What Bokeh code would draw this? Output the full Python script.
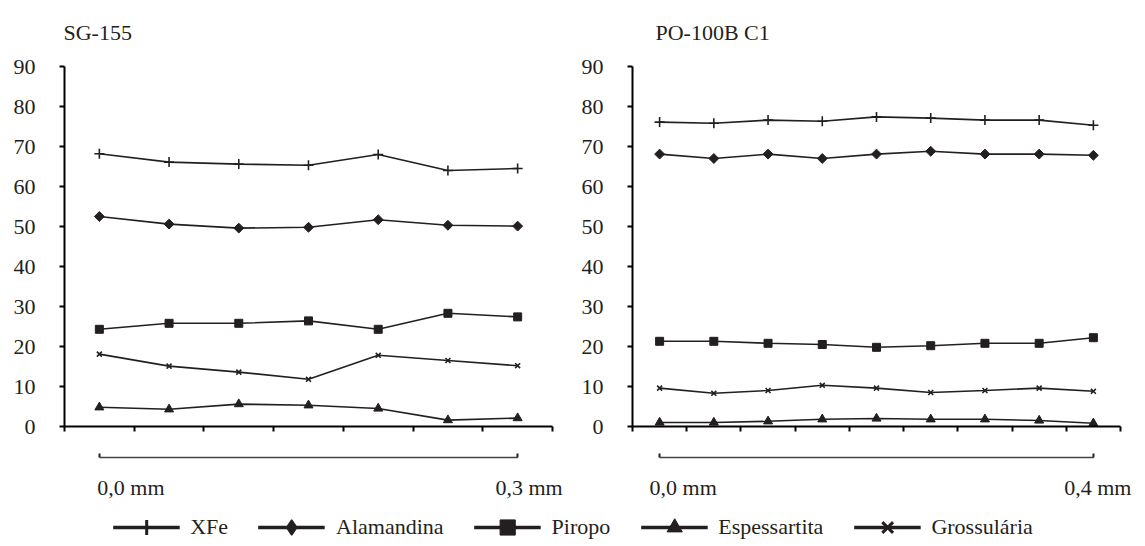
import numpy as np
from bokeh.plotting import figure
from bokeh.models import Range1d, LinearAxis, FixedTicker, Label, Legend, LegendItem
from bokeh.layouts import column, row
from bokeh.embed import file_html
from bokeh.resources import INLINE

# ---------------- data ----------------
series_names = ["XFe", "Alamandina", "Piropo", "Espessartita", "Grossulária"]
y_ticks = [0, 10, 20, 30, 40, 50, 60, 70, 80, 90]

sg155_title = "SG-155"
sg155_scale_mm = 0.3
sg155_scale_labels = ["0,0 mm", "0,3 mm"]
sg155_xfe = [68.2, 66.1, 65.6, 65.3, 68.0, 64.0, 64.5]
sg155_alamandina = [52.5, 50.6, 49.6, 49.8, 51.7, 50.3, 50.1]
sg155_piropo = [24.3, 25.8, 25.8, 26.4, 24.3, 28.3, 27.4]
sg155_espessartita = [4.8, 4.3, 5.6, 5.3, 4.5, 1.6, 2.1]
sg155_grossularia = [18.1, 15.1, 13.6, 11.8, 17.8, 16.5, 15.2]

po100_title = "PO-100B C1"
po100_scale_mm = 0.4
po100_scale_labels = ["0,0 mm", "0,4 mm"]
po100_xfe = [76.1, 75.8, 76.6, 76.3, 77.4, 77.1, 76.6, 76.6, 75.3]
po100_alamandina = [68.1, 67.0, 68.1, 67.0, 68.1, 68.8, 68.1, 68.1, 67.8]
po100_piropo = [21.3, 21.3, 20.8, 20.5, 19.8, 20.2, 20.8, 20.8, 22.2]
po100_espessartita = [1.0, 1.0, 1.3, 1.8, 2.0, 1.8, 1.8, 1.5, 0.8]
po100_grossularia = [9.6, 8.3, 9.0, 10.3, 9.6, 8.5, 9.0, 9.6, 8.8]

# ---------------- style / layout ----------------
FONT = "Liberation Serif"
INK = "#231f20"
H1 = 502          # height of the two panel figures
H2 = 44           # height of the legend strip
AX_TOP = 66       # pixel row of y = 90
AX_BOTTOM = 426   # pixel row of y = 0
Y_MAX = 90

plot_markers = {
    "XFe": dict(marker="cross", size=10, line_width=1.6, angle=0.0),
    "Alamandina": dict(marker="square", size=7, line_width=1, angle=np.pi / 4),
    "Piropo": dict(marker="square", size=8, line_width=1, angle=0.0),
    "Espessartita": dict(marker="triangle", size=9, line_width=1, angle=0.0),
    "Grossulária": dict(marker="x", size=7, line_width=1.6, angle=0.0),
}
legend_markers = {
    "XFe": dict(marker="cross", line_width=3),
    "Alamandina": dict(marker="diamond", line_width=1.5),
    "Piropo": dict(marker="square", line_width=1),
    "Espessartita": dict(marker="triangle", line_width=1),
    "Grossulária": dict(marker="x", line_width=3),
}


def make_panel(title, values, mm_len, mm_labels, width, ax_left, ax_right,
               title_dx, lab_left_dx, lab_right_dx):
    n = len(values[0])
    ppx = (ax_right - ax_left) / n              # pixels per x unit
    ppy = (AX_BOTTOM - AX_TOP) / Y_MAX          # pixels per y unit
    xs, xe = -ax_left / ppx, n + (width - ax_right) / ppx
    ys, ye = -(H1 - AX_BOTTOM) / ppy, AX_BOTTOM / ppy

    p = figure(width=width, height=H1, x_range=Range1d(xs, xe), y_range=Range1d(ys, ye),
               output_backend="svg", toolbar_location=None,
               x_axis_location=None, y_axis_location=None, min_border=0)
    p.outline_line_color = None
    p.grid.visible = False
    p.background_fill_color = "white"
    p.border_fill_color = "white"

    yax = LinearAxis(fixed_location=0, ticker=FixedTicker(ticks=y_ticks), bounds=(0, Y_MAX),
                     major_tick_out=5, major_tick_in=0, minor_tick_out=0, minor_tick_in=0,
                     axis_line_width=2, axis_line_color="black",
                     major_tick_line_width=2, major_tick_line_color="black",
                     major_label_standoff=24, major_label_text_font=FONT,
                     major_label_text_font_size="22px", major_label_text_color=INK)
    p.add_layout(yax, "left")

    xax = LinearAxis(fixed_location=0, ticker=FixedTicker(ticks=list(range(n + 1))), bounds=(0, n),
                     major_tick_out=5, major_tick_in=0, minor_tick_out=0, minor_tick_in=0,
                     axis_line_width=2, axis_line_color="black",
                     major_tick_line_width=2, major_tick_line_color="black",
                     major_label_text_color=None)
    p.add_layout(xax, "below")

    step = mm_len / (n - 1)
    p.extra_x_ranges = {"mm": Range1d((xs - 0.5) * step, (xe - 0.5) * step)}
    sax = LinearAxis(x_range_name="mm", fixed_location=-7.75,
                     ticker=FixedTicker(ticks=[0, mm_len]), bounds=(0, mm_len),
                     major_tick_out=0, major_tick_in=4, minor_tick_out=0, minor_tick_in=0,
                     axis_line_width=1.5, axis_line_color="#444444",
                     major_tick_line_width=2, major_tick_line_color="#222222",
                     major_label_text_color=None)
    p.add_layout(sax, "below")

    p.add_layout(Label(x=0, y=-15.25, x_range_name="mm", text=mm_labels[0], text_align="left",
                       x_offset=lab_left_dx, text_baseline="alphabetic", text_font=FONT,
                       text_font_size="22px", text_color=INK))
    p.add_layout(Label(x=mm_len, y=-15.25, x_range_name="mm", text=mm_labels[1], text_align="right",
                       x_offset=lab_right_dx, text_baseline="alphabetic", text_font=FONT,
                       text_font_size="22px", text_color=INK))
    p.add_layout(Label(x=0, y=98.5, text=title, text_align="left", x_offset=title_dx,
                       text_baseline="alphabetic", text_font=FONT, text_font_size="22px",
                       text_color=INK))

    x = np.arange(n) + 0.5
    for name, ys_ in zip(series_names, values):
        m = plot_markers[name]
        p.line(x, ys_, line_color=INK, line_width=1.6)
        p.scatter(x, ys_, marker=m["marker"], size=m["size"], angle=m["angle"],
                  line_color=INK, fill_color=INK, line_width=m["line_width"])
    return p


p1 = make_panel(sg155_title,
                [sg155_xfe, sg155_alamandina, sg155_piropo, sg155_espessartita, sg155_grossularia],
                sg155_scale_mm, sg155_scale_labels, 580, 64, 552, -1, -2, 45)
p2 = make_panel(po100_title,
                [po100_xfe, po100_alamandina, po100_piropo, po100_espessartita, po100_grossularia],
                po100_scale_mm, po100_scale_labels, 565, 52, 540, 23, -10, 38)

lf = figure(width=1145, height=H2, x_range=Range1d(0, 1), y_range=Range1d(0, 1),
            output_backend="svg", toolbar_location=None,
            x_axis_location=None, y_axis_location=None, min_border=0)
lf.outline_line_color = None
lf.grid.visible = False
items = []
for name in series_names:
    m = legend_markers[name]
    # renderers whose point lies outside the visible range: only their legend swatch shows
    lr = lf.line(x=[-5, -4], y=[-5, -5], line_color=INK, line_width=3.5)
    sr = lf.scatter(x=[-5], y=[-5], marker=m["marker"], line_color=INK,
                    fill_color=INK, line_width=m["line_width"])
    items.append(LegendItem(label=name, renderers=[lr, sr]))
legend = Legend(items=items, orientation="horizontal", location="bottom_center",
                glyph_width=67, glyph_height=38, label_standoff=11, spacing=30,
                padding=0, margin=0, border_line_color=None, background_fill_alpha=0,
                label_text_font=FONT, label_text_font_size="22px", label_text_color=INK)
lf.add_layout(legend, "center")

layout = column(row(p1, p2), lf)
open("out.html", "w").write(file_html(layout, INLINE))
